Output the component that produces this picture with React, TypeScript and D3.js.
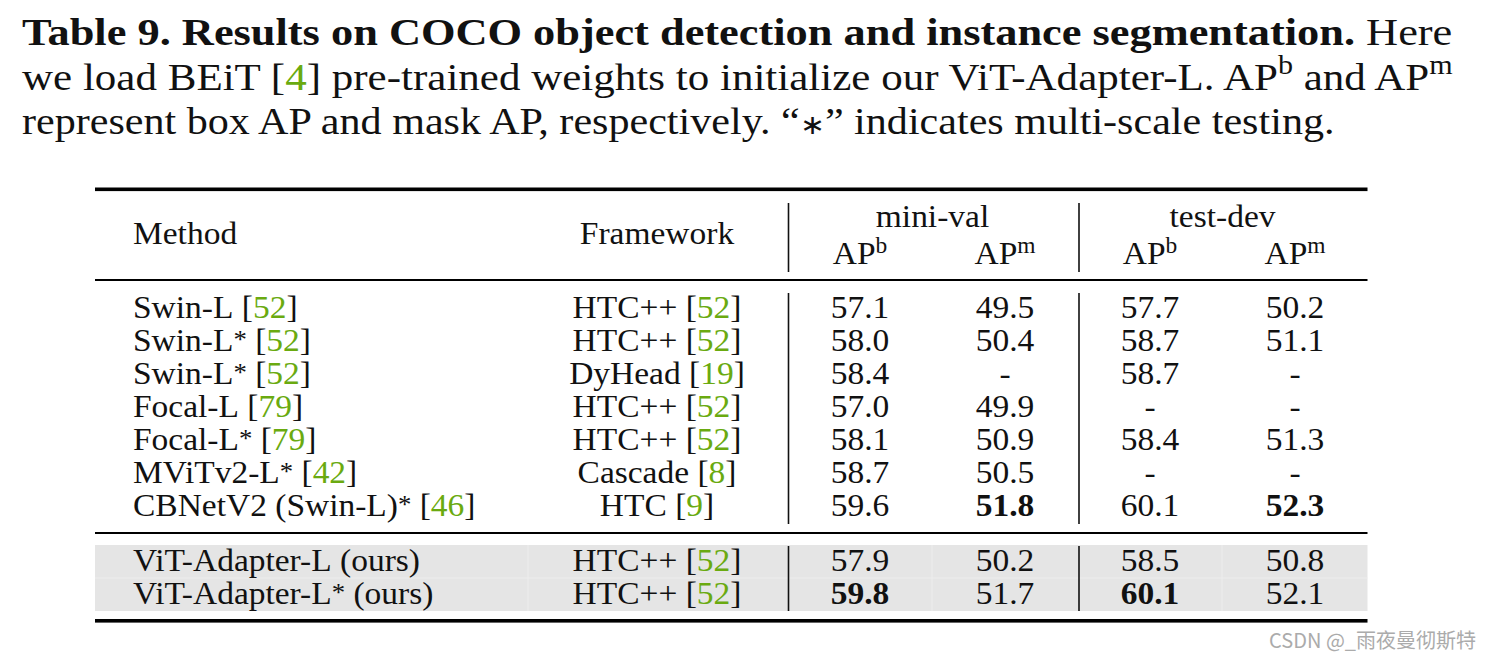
import { useEffect, useRef } from 'react';
import * as d3 from 'd3';

const W = 1489;
const H = 659;

// table rows
const methods = ['Swin-L', 'Swin-L', 'Swin-L', 'Focal-L', 'Focal-L', 'MViTv2-L', 'CBNetV2 (Swin-L)', 'ViT-Adapter-L', 'ViT-Adapter-L'];
const methodStar = [false, true, true, false, true, true, true, false, true];
const methodCite = ['52', '52', '52', '79', '79', '42', '46', '', ''];
const frameworks = ['HTC++', 'HTC++', 'DyHead', 'HTC++', 'HTC++', 'Cascade', 'HTC', 'HTC++', 'HTC++'];
const frameworkCite = ['52', '52', '19', '52', '52', '8', '9', '52', '52'];
const miniValBox = ['57.1', '58.0', '58.4', '57.0', '58.1', '58.7', '59.6', '57.9', '59.8'];
const miniValMask = ['49.5', '50.4', '-', '49.9', '50.9', '50.5', '51.8', '50.2', '51.7'];
const testDevBox = ['57.7', '58.7', '58.7', '-', '58.4', '-', '60.1', '58.5', '60.1'];
const testDevMask = ['50.2', '51.1', '-', '-', '51.3', '-', '52.3', '50.8', '52.1'];
const boldCells = ['6-1', '6-3', '8-0', '8-2'];
const oursRows = [7, 8];

const numCols = ['mvb', 'mvm', 'tdb', 'tdm'];
const groups = ['mini-val', 'test-dev'];

const GREEN = '#6aaa10';
const SERIF = '"Liberation Serif", "Times New Roman", serif';

// shift/size are fractions of the font size
type Part = { t: string; bold?: boolean; green?: boolean; sup?: boolean; star?: boolean; mathStar?: boolean };

function rich(g: any, parts: Part[], fs: number, anchor = 'start', supRaise = 0.4) {
  const text = g
    .append('text')
    .attr('font-family', SERIF)
    .attr('font-size', fs)
    .attr('fill', '#111')
    .attr('text-anchor', anchor);
  let shift = 0;
  parts.forEach((p) => {
    let target = 0;
    let size = fs;
    if (p.sup) { target = -supRaise * fs; size = fs * 0.7; }
    if (p.star) { target = -0.1 * fs; size = fs * 0.8; }
    if (p.mathStar) { target = 0; size = fs * 0.72; }
    const ts = text
      .append('tspan')
      .attr('dy', target - shift)
      .attr('font-size', size)
      .text(p.t);
    shift = target;
    if (p.bold) ts.attr('font-weight', 'bold');
    if (p.green) ts.attr('fill', GREEN);
  });
  return text;
}

export default function App() {
  const ref = useRef<SVGSVGElement>(null);

  useEffect(() => {
    const draw = () => {
      if (!ref.current) return;
      const svg = d3.select(ref.current);
      svg.selectAll('*').remove();

      // caption, each line stretched to its measured width
      const capLines: Part[][] = [
        [{ t: 'Table 9. Results on COCO object detection and instance segmentation.', bold: true }, { t: ' Here' }],
        [
          { t: 'we load BEiT [' }, { t: '4', green: true },
          { t: '] pre-trained weights to initialize our ViT-Adapter-L. AP' }, { t: 'b', sup: true },
          { t: ' and AP' }, { t: 'm', sup: true },
        ],
        [
          { t: 'represent box AP and mask AP, respectively. \u201C' },
          { t: '\u2217', mathStar: true },
          { t: '\u201D indicates multi-scale testing.' },
        ],
      ];
      const capBase = [44.5, 89.5, 134];
      const capWidth = [1431, 1431, 1313];
      capLines.forEach((parts, i) => {
        const g = svg.append('g');
        const t = rich(g, parts, 38);
        const w = (t.node() as SVGTextElement).getComputedTextLength() || capWidth[i];
        g.attr('transform', `translate(22,${capBase[i]}) scale(${capWidth[i] / w},1)`);
      });

      const x0 = 95;
      const x1 = 1367.5;
      const fs = 32.5;
      const sx = 1.03;

      const rowY = (i: number) =>
        i < 7 ? d3.scaleLinear().domain([0, 6]).range([318, 516])(i) : d3.scaleLinear().domain([7, 8]).range([571, 604])(i);
      const colX = d3.scalePoint<string>().domain(numCols).range([860, 1295]);
      const groupX = (gname: string) => {
        const k = groups.indexOf(gname);
        return ((colX(numCols[k * 2]) as number) + (colX(numCols[k * 2 + 1]) as number)) / 2;
      };

      // gray background for our rows
      svg
        .append('rect')
        .attr('x', x0)
        .attr('y', 545)
        .attr('width', x1 - x0)
        .attr('height', 66)
        .attr('fill', '#e5e5e5');
      // faint cell seams inside the shaded rows
      svg.append('line').attr('x1', x0).attr('x2', x1).attr('y1', 578).attr('y2', 578)
        .attr('stroke', '#ededed').attr('stroke-width', 1);
      [528, 932, 1222].forEach((x) => {
        svg.append('line').attr('x1', x).attr('x2', x).attr('y1', 545).attr('y2', 611)
          .attr('stroke', '#ededed').attr('stroke-width', 1);
      });

      // booktabs rules
      const rules = [
        { y: 187.5, h: 3.6 },
        { y: 279, h: 2 },
        { y: 532, h: 2 },
        { y: 619, h: 3.6 },
      ];
      svg.selectAll('rect.rule').data(rules).join('rect')
        .attr('class', 'rule')
        .attr('x', x0).attr('width', x1 - x0)
        .attr('y', (d) => d.y).attr('height', (d) => d.h)
        .attr('fill', '#000');

      // vertical separators
      const segs = [[203, 272], [293, 524], [546, 611]];
      [788.5, 1079].forEach((x) => {
        segs.forEach(([a, b]) => {
          svg.append('line').attr('x1', x).attr('x2', x).attr('y1', a).attr('y2', b)
            .attr('stroke', '#111').attr('stroke-width', 1.6);
        });
      });

      const cell = (x: number, y: number, parts: Part[], anchor = 'start', supRaise = 0.4) => {
        const g = svg.append('g').attr('transform', `translate(${x},${y}) scale(${sx},1)`);
        rich(g, parts, fs, anchor, supRaise);
      };

      // header
      cell(133, 244, [{ t: 'Method' }]);
      cell(657, 244, [{ t: 'Framework' }], 'middle');
      groups.forEach((gname) => cell(groupX(gname), 227, [{ t: gname }], 'middle'));
      numCols.forEach((c, k) => {
        cell(colX(c) as number, 264, [{ t: 'AP' }, { t: k % 2 === 0 ? 'b' : 'm', sup: true }], 'middle', 0.34);
      });

      // body
      const numData = [miniValBox, miniValMask, testDevBox, testDevMask];
      methods.forEach((m, i) => {
        const y = rowY(i);
        const parts: Part[] = [{ t: m }];
        if (methodStar[i]) parts.push({ t: '*', star: true });
        if (oursRows.includes(i)) parts.push({ t: ' (ours)' });
        else parts.push({ t: ' [' }, { t: methodCite[i], green: true }, { t: ']' });
        cell(133, y, parts);

        cell(657, y, [{ t: frameworks[i] + ' [' }, { t: frameworkCite[i], green: true }, { t: ']' }], 'middle');

        numCols.forEach((c, k) => {
          cell(colX(c) as number, y, [{ t: numData[k][i], bold: boldCells.includes(`${i}-${k}`) }], 'middle');
        });
      });

      // watermark
      svg
        .append('text')
        .attr('x', 1476)
        .attr('y', 648)
        .attr('text-anchor', 'end')
        .attr('font-family', '"Noto Sans CJK SC", "Noto Sans", sans-serif')
        .attr('font-size', 20)
        .attr('fill', '#ababab')
        .text('CSDN @_雨夜曼彻斯特');
    };

    draw();
    (document as any).fonts?.ready?.then(draw);
  }, []);

  return (
    <svg
      ref={ref}
      width={W}
      height={H}
      style={{ position: 'absolute', left: 0, top: 0, background: '#fff' }}
    />
  );
}
